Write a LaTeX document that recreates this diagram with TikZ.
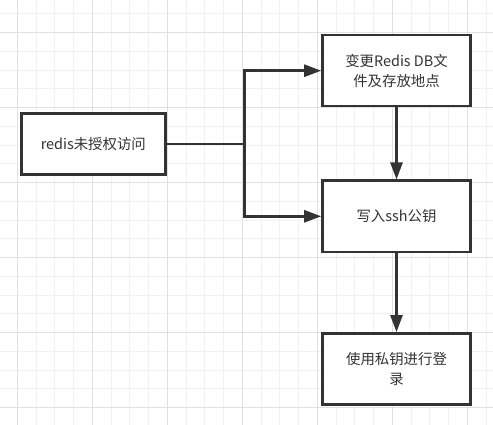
\documentclass[tikz,border=0pt]{standalone}
\usepackage{fontspec}
\setmainfont{Noto Sans CJK SC}
\usetikzlibrary{arrows.meta,positioning}
\definecolor{linegray}{RGB}{51,51,51}
\definecolor{minorgrid}{RGB}{241,241,241}
\definecolor{majorgrid}{RGB}{224,224,224}
\tikzset{
    stepbox/.style={draw=linegray, line width=2.6pt, fill=white, align=center, text=linegray, minimum width=148pt, minimum height=71pt, inner sep=0pt, font=\fontsize{14.4}{20}\selectfont},
    startbox/.style={stepbox, minimum width=144pt, minimum height=61pt},
    flowline/.style={draw=linegray, line width=2.6pt},
    flowarrow/.style={flowline, -{Triangle[length=17pt, width=12pt]}},
    minorline/.style={draw=minorgrid, line width=1pt},
    majorline/.style={draw=majorgrid, line width=1pt}
}

\begin{document}
\begin{tikzpicture}[x=1pt, y=-1pt]
    \useasboundingbox (0,0) rectangle (493,425);
    \fill[white] (0,0) rectangle (493,425);
    % background grid
    \foreach \gx in {-1.45,17.3,...,493} \draw[minorline] (\gx,0) -- (\gx,425);
    \foreach \gy in {13.95,32.7,...,426} \draw[minorline] (0,\gy) -- (493,\gy);
    \foreach \gx in {17.3,92.3,...,493} \draw[majorline] (\gx,0) -- (\gx,425);
    \foreach \gy in {32.7,107.7,...,426} \draw[majorline] (0,\gy) -- (493,\gy);

    \node[startbox] (redis) at (93.3,144.2) {redis未授权访问};
    \node[stepbox] (changedb) at (396.5,70.7) {变更Redis DB文\\件及存放地点};
    \node[stepbox, below=72pt of changedb] (sshkey) {写入ssh公钥};
    \node[stepbox, below=79pt of sshkey] (login) {使用私钥进行登\\录};

    \draw[flowline] (redis.east) -- ++(78,0) coordinate (split);
    \draw[flowarrow] (split) |- (changedb.west);
    \draw[flowarrow] (split) |- (sshkey.west);
    \draw[flowarrow] (changedb) -- (sshkey);
    \draw[flowarrow] (sshkey) -- (login);
\end{tikzpicture}
\end{document}
